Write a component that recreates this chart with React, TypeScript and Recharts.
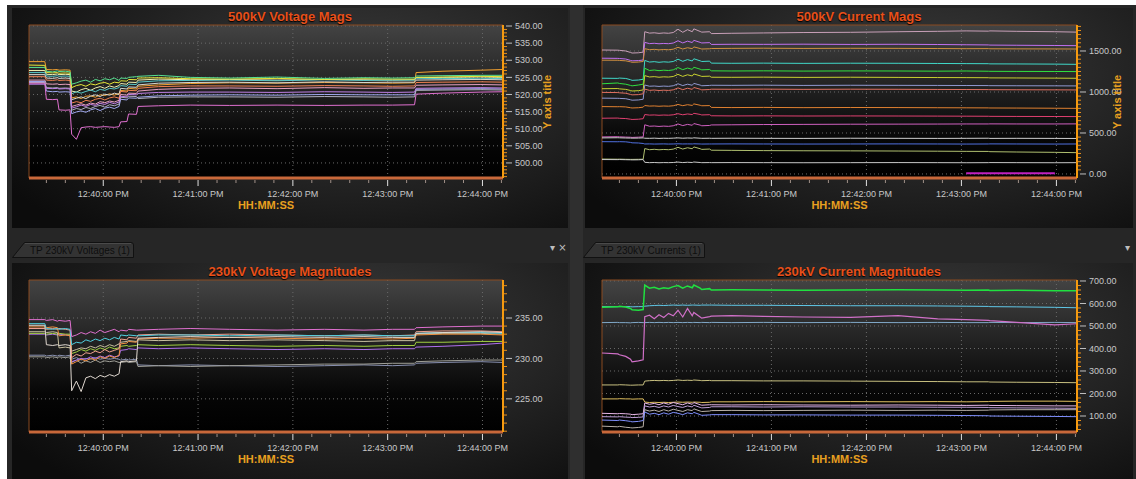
import { CartesianGrid, Line, LineChart, ReferenceArea, XAxis, YAxis } from "recharts";

const FONT = "Arial, 'Liberation Sans', Helvetica, sans-serif";

// seconds relative to 12:40:00 PM
const TIME = [-47, -37, -36, -32, -29, -28, -24, -21, -20, -17, -14, -11, -8, -5, -2, 1, 4, 7, 10, 11, 15, 16, 21, 22, 35, 55, 80, 110, 140, 165, 183, 197, 198, 215, 239, 253];

const X_TICKS = [-36, -24, -12, 0, 12, 24, 36, 48, 60, 72, 84, 96, 108, 120, 132, 144, 156, 168, 180, 192, 204, 216, 228, 240, 252];
const X_MAJOR = [0, 60, 120, 180, 240];
const X_LABELS = ["12:40:00 PM", "12:41:00 PM", "12:42:00 PM", "12:43:00 PM", "12:44:00 PM"];

// 500kV voltage mags (kV)
const V500_ORANGE = [529.6, 529.6, 527.3, 527.2, 527.3, 527.1, 527.2, 527.1, 519.0, 519.3, 518.8, 519.5, 519.6, 519.2, 519.9, 519.7, 520.2, 519.8, 520.3, 521.2, 521.0, 521.8, 521.6, 522.4, 522.8, 523.2, 523.4, 523.3, 523.5, 523.4, 523.3, 523.4, 526.4, 526.8, 527.1, 527.3];
const V500_YELLOW = [528.6, 528.5, 526.4, 526.3, 526.4, 526.2, 526.3, 526.2, 522.0, 522.6, 522.9, 522.4, 523.1, 522.8, 523.3, 523.5, 523.0, 523.6, 523.4, 524.0, 523.9, 524.4, 524.3, 524.8, 524.9, 524.6, 524.5, 524.7, 524.4, 524.6, 524.5, 524.5, 525.0, 525.1, 525.3, 525.2];
const V500_GREEN = [527.9, 527.9, 526.8, 526.6, 526.9, 526.7, 526.8, 526.6, 523.0, 523.4, 523.9, 524.2, 523.6, 524.4, 524.0, 524.6, 524.3, 524.8, 524.1, 524.8, 524.7, 525.0, 525.2, 525.3, 525.6, 525.0, 524.8, 525.1, 524.7, 524.9, 524.8, 524.9, 525.4, 525.5, 525.6, 525.6];
const V500_PALE = [527.0, 527.0, 525.9, 525.8, 526.0, 525.8, 525.9, 525.8, 521.0, 520.7, 521.4, 521.8, 521.2, 521.9, 522.3, 521.8, 522.5, 522.1, 522.6, 523.2, 523.0, 523.6, 523.5, 524.2, 524.5, 524.3, 524.4, 524.2, 524.4, 524.3, 524.2, 524.3, 524.9, 525.0, 525.1, 525.0];
const V500_TEAL = [526.4, 526.4, 525.4, 525.3, 525.5, 525.3, 525.4, 525.3, 520.2, 520.8, 520.4, 520.9, 521.3, 520.8, 521.5, 521.2, 521.8, 521.6, 522.0, 522.6, 522.4, 523.0, 522.9, 523.6, 524.0, 524.1, 524.2, 524.0, 524.3, 524.1, 524.2, 524.2, 524.6, 524.7, 524.6, 524.7];
const V500_WHITE = [525.8, 525.8, 524.8, 524.7, 524.9, 524.7, 524.8, 524.7, 518.5, 518.9, 519.3, 518.8, 519.5, 519.9, 519.4, 520.1, 519.8, 520.4, 520.0, 521.8, 521.6, 522.2, 522.1, 522.8, 523.3, 523.5, 523.6, 523.4, 523.7, 523.5, 523.6, 523.6, 524.2, 524.3, 524.4, 524.3];
const V500_SALMON = [525.2, 525.2, 524.2, 524.1, 524.3, 524.1, 524.2, 524.1, 517.5, 517.9, 517.6, 518.3, 518.0, 518.6, 518.9, 518.4, 519.0, 519.3, 518.9, 520.9, 520.7, 521.2, 521.1, 521.8, 522.3, 522.5, 522.5, 522.4, 522.6, 522.5, 522.4, 522.5, 523.5, 523.6, 523.7, 523.6];
const V500_PINK = [524.2, 524.2, 523.1, 523.0, 523.1, 522.9, 523.0, 522.9, 516.5, 516.9, 517.3, 516.9, 517.5, 517.2, 517.9, 517.6, 518.1, 517.8, 518.3, 520.0, 519.8, 520.4, 520.3, 521.0, 521.5, 521.8, 521.9, 521.7, 522.0, 521.8, 521.9, 521.9, 522.7, 522.8, 522.9, 522.8];
const V500_LAVENDER = [523.8, 523.8, 521.0, 520.8, 520.9, 520.7, 520.8, 520.7, 514.4, 514.9, 515.2, 514.8, 515.5, 515.9, 515.3, 516.0, 516.3, 515.9, 516.5, 518.6, 518.4, 519.0, 518.9, 519.2, 519.6, 519.8, 519.9, 519.8, 520.0, 519.9, 519.9, 519.9, 521.5, 521.6, 521.7, 521.6];
const V500_GRAY = [523.5, 523.5, 522.0, 521.9, 522.0, 521.8, 521.9, 521.8, 515.4, 515.9, 515.6, 516.2, 515.9, 516.5, 516.8, 516.3, 517.0, 516.7, 517.2, 519.2, 519.0, 519.5, 519.4, 518.8, 519.2, 519.3, 519.3, 519.2, 519.4, 519.3, 519.2, 519.3, 521.2, 521.3, 521.4, 521.3];
const V500_PURPLE = [523.0, 523.0, 521.8, 521.7, 521.8, 521.6, 521.7, 521.6, 516.0, 516.4, 516.9, 516.5, 517.1, 516.8, 517.4, 517.1, 517.7, 517.3, 517.8, 519.5, 519.3, 520.0, 519.9, 520.3, 520.6, 520.7, 520.7, 520.6, 520.8, 520.7, 520.6, 520.7, 521.8, 521.9, 522.0, 521.9];
const V500_MAGENTA = [523.3, 523.3, 518.6, 518.5, 518.6, 515.5, 515.4, 515.5, 508.4, 506.9, 510.3, 510.5, 510.6, 510.4, 510.5, 510.6, 510.5, 510.4, 510.6, 512.0, 512.1, 514.3, 514.2, 516.5, 516.7, 516.9, 516.8, 516.9, 516.8, 516.9, 516.9, 517.0, 520.1, 520.4, 520.7, 520.8];

// 500kV current mags (A)
const I500_MAUVE = [1512, 1510, 1508, 1500, 1482, 1475, 1478, 1486, 1735, 1718, 1722, 1715, 1720, 1716, 1725, 1765, 1728, 1760, 1735, 1770, 1738, 1730, 1735, 1712, 1716, 1720, 1725, 1728, 1735, 1740, 1745, 1742, 1745, 1740, 1735, 1730];
const I500_VIOLET = [1412, 1410, 1408, 1402, 1385, 1380, 1383, 1390, 1605, 1590, 1594, 1588, 1592, 1589, 1597, 1625, 1598, 1620, 1603, 1630, 1605, 1598, 1602, 1580, 1582, 1581, 1583, 1580, 1582, 1579, 1576, 1574, 1572, 1570, 1567, 1565];
const I500_TAN = [1388, 1387, 1385, 1380, 1368, 1362, 1365, 1372, 1528, 1516, 1520, 1514, 1518, 1515, 1522, 1545, 1524, 1540, 1528, 1550, 1530, 1524, 1527, 1530, 1532, 1534, 1531, 1533, 1532, 1530, 1528, 1529, 1527, 1526, 1525, 1524];
const I500_TEAL = [1168, 1166, 1170, 1165, 1150, 1142, 1146, 1155, 1385, 1365, 1370, 1362, 1368, 1364, 1372, 1400, 1374, 1395, 1378, 1405, 1380, 1372, 1376, 1352, 1350, 1352, 1349, 1351, 1350, 1348, 1346, 1345, 1343, 1342, 1340, 1337];
const I500_GREEN = [1100, 1110, 1104, 1095, 1080, 1075, 1085, 1095, 1290, 1262, 1268, 1260, 1266, 1262, 1270, 1298, 1272, 1292, 1276, 1302, 1278, 1270, 1274, 1258, 1256, 1258, 1255, 1257, 1256, 1254, 1256, 1253, 1252, 1251, 1250, 1249];
const I500_YELLOW = [1040, 1042, 1038, 1032, 1018, 1012, 1016, 1025, 1200, 1183, 1187, 1180, 1185, 1182, 1189, 1215, 1190, 1210, 1195, 1220, 1197, 1190, 1193, 1180, 1179, 1181, 1178, 1180, 1178, 1176, 1175, 1174, 1172, 1171, 1169, 1167];
const I500_LAVENDER = [925, 923, 922, 918, 905, 900, 903, 912, 1085, 1070, 1073, 1068, 1072, 1069, 1076, 1100, 1078, 1095, 1082, 1105, 1084, 1076, 1080, 1082, 1081, 1083, 1080, 1082, 1081, 1080, 1079, 1078, 1077, 1076, 1075, 1074];
const I500_SALMON = [995, 993, 990, 985, 970, 965, 968, 978, 1035, 1020, 1024, 1018, 1022, 1019, 1026, 1050, 1028, 1046, 1032, 1055, 1034, 1026, 1030, 1034, 1033, 1035, 1032, 1034, 1033, 1031, 1030, 1029, 1028, 1027, 1026, 1025];
const I500_ORANGE = [822, 820, 821, 818, 808, 805, 808, 815, 835, 828, 830, 826, 829, 827, 832, 848, 833, 845, 836, 855, 838, 832, 834, 812, 810, 812, 809, 811, 810, 808, 807, 806, 805, 804, 802, 800];
const I500_RED = [680, 682, 679, 676, 668, 665, 668, 674, 725, 718, 720, 716, 719, 717, 722, 735, 722, 732, 725, 740, 726, 720, 723, 710, 708, 709, 707, 708, 707, 706, 705, 704, 703, 702, 701, 700];
const I500_ROSE = [452, 455, 453, 450, 448, 446, 449, 452, 600, 582, 585, 580, 584, 581, 588, 610, 590, 605, 594, 615, 596, 588, 592, 598, 600, 603, 605, 607, 608, 609, 610, 610, 611, 610, 610, 611];
const I500_SILVER = [440, 442, 441, 439, 438, 437, 438, 440, 436, 435, 437, 434, 436, 435, 437, 440, 436, 439, 437, 441, 436, 435, 436, 435, 436, 435, 434, 436, 435, 434, 435, 436, 434, 435, 434, 433];
const I500_BLUE = [394, 393, 394, 392, 385, 380, 378, 372, 366, 367, 365, 366, 367, 365, 366, 368, 366, 367, 366, 368, 366, 365, 366, 366, 367, 366, 365, 366, 367, 366, 365, 366, 367, 366, 365, 366];
const I500_OLIVE = [182, 180, 181, 179, 178, 178, 179, 180, 310, 296, 301, 295, 299, 296, 303, 325, 304, 320, 308, 330, 308, 300, 304, 290, 288, 285, 283, 282, 280, 278, 276, 275, 272, 268, 264, 260];
const I500_WHITE = [176, 175, 176, 174, 173, 172, 173, 176, 142, 138, 140, 137, 139, 138, 140, 145, 139, 143, 140, 146, 140, 138, 139, 138, 139, 138, 137, 138, 139, 138, 137, 138, 139, 138, 137, 138];
const I500_SHORT = [null, null, null, null, null, null, null, null, null, null, null, null, null, null, null, null, null, null, null, null, null, null, null, null, null, null, null, null, null, null, 8, 8, 8, 8, 8, null];

// 230kV voltage magnitudes (kV)
const V230_PINK = [234.8, 234.8, 234.7, 234.8, 234.6, 234.7, 234.6, 234.7, 232.7, 232.9, 233.2, 233.0, 233.3, 233.1, 233.5, 233.2, 233.4, 233.6, 233.3, 233.5, 233.4, 233.6, 233.5, 233.5, 233.6, 233.7, 233.6, 233.5, 233.6, 233.5, 233.6, 233.6, 233.8, 233.9, 234.0, 234.0];
const V230_TEAL = [234.3, 234.3, 233.7, 233.6, 233.7, 233.6, 233.7, 233.6, 231.7, 232.0, 231.9, 232.3, 232.1, 232.4, 232.2, 232.5, 232.3, 232.6, 232.4, 232.9, 232.8, 232.9, 232.8, 232.8, 232.9, 232.9, 232.8, 232.9, 232.8, 232.9, 232.8, 232.8, 233.1, 233.2, 233.2, 233.1];
const V230_WHITE = [234.1, 234.1, 231.7, 231.6, 231.7, 231.6, 231.7, 231.6, 226.0, 227.2, 225.9, 227.6, 227.8, 227.5, 227.9, 227.7, 228.0, 227.8, 228.1, 229.6, 229.7, 229.6, 229.7, 232.5, 232.6, 232.7, 232.6, 232.7, 232.6, 232.7, 232.6, 232.6, 233.1, 233.2, 233.3, 233.2];
const V230_ORANGE = [233.9, 233.9, 233.8, 233.9, 233.8, 232.8, 232.9, 232.8, 229.3, 229.6, 229.9, 229.7, 230.0, 229.8, 230.2, 230.0, 230.3, 230.1, 230.4, 231.8, 231.9, 232.1, 232.0, 232.4, 232.5, 232.5, 232.6, 232.5, 232.4, 232.5, 232.4, 232.5, 232.9, 233.0, 233.0, 232.9];
const V230_SALMON = [233.7, 233.7, 233.6, 233.7, 233.6, 233.7, 233.6, 233.5, 230.1, 230.5, 230.3, 230.7, 230.6, 230.9, 230.7, 231.1, 230.8, 231.0, 231.2, 232.4, 232.3, 232.6, 232.5, 232.9, 233.0, 232.9, 233.0, 232.9, 232.8, 232.9, 232.8, 232.9, 233.3, 233.4, 233.4, 233.3];
const V230_BEIGE = [233.3, 233.3, 233.2, 233.3, 233.2, 231.3, 231.4, 231.3, 230.9, 231.1, 231.3, 231.2, 231.5, 231.3, 231.6, 231.4, 231.7, 231.5, 231.8, 232.0, 232.1, 232.2, 232.1, 232.3, 232.2, 232.3, 232.2, 232.3, 232.2, 232.1, 232.2, 232.2, 233.0, 233.1, 233.1, 233.0];
const V230_GREEN = [233.1, 233.1, 233.0, 233.1, 233.0, 233.1, 233.0, 233.0, 230.6, 230.8, 231.1, 230.9, 231.2, 231.0, 231.3, 231.1, 231.4, 231.2, 231.3, 231.5, 231.6, 231.5, 231.6, 231.7, 231.6, 231.7, 231.6, 231.5, 231.6, 231.5, 231.6, 231.6, 232.0, 232.0, 232.1, 232.1];
const V230_PURPLE = [233.0, 233.0, 232.9, 233.0, 232.9, 233.0, 232.9, 232.9, 229.6, 229.8, 230.0, 229.9, 230.2, 230.0, 230.3, 230.1, 230.4, 230.2, 230.3, 231.0, 231.1, 231.2, 231.1, 231.3, 231.2, 231.3, 231.2, 231.1, 231.2, 231.1, 231.2, 231.2, 231.4, 231.5, 231.7, 231.9];
const V230_SLATE = [230.4, 230.4, 230.3, 230.4, 230.3, 230.4, 230.3, 230.4, 229.9, 230.1, 229.8, 230.0, 229.9, 230.1, 229.9, 230.0, 229.9, 230.0, 229.9, 229.8, 229.9, 229.8, 229.9, 229.2, 229.1, 229.2, 229.1, 229.0, 229.1, 229.2, 229.1, 229.2, 229.4, 229.5, 229.6, 229.5];
const V230_GRAY = [230.2, 230.2, 230.1, 230.2, 230.1, 230.2, 230.1, 230.2, 229.5, 229.8, 229.4, 229.7, 229.5, 229.8, 229.5, 229.7, 229.6, 229.7, 229.5, 229.5, 229.6, 229.5, 229.6, 229.0, 229.1, 229.0, 229.1, 229.2, 229.3, 229.3, 229.4, 229.4, 229.6, 229.7, 229.8, 229.8];

// 230kV current magnitudes (A)
const I230_GREEN = [583, 585, 588, 584, 578, 572, 570, 573, 682, 668, 672, 665, 670, 667, 675, 680, 668, 678, 670, 682, 668, 662, 666, 660, 661, 660, 659, 660, 661, 660, 659, 660, 658, 659, 657, 657];
const I230_CYAN = [586, 586, 586, 586, 586, 585, 586, 586, 588, 590, 591, 592, 591, 592, 593, 592, 593, 592, 593, 593, 592, 593, 593, 593, 592, 592, 591, 590, 590, 589, 588, 587, 586, 585, 583, 581];
const I230_PINK = [380, 376, 372, 365, 352, 341, 345, 350, 541, 548, 532, 550, 538, 556, 545, 570, 540, 578, 545, 560, 540, 535, 542, 544, 546, 543, 540, 538, 546, 532, 528, 525, 524, 516, 505, 510];
const I230_STEEL = [515, 516, 515, 515, 514, 515, 516, 515, 515, 516, 515, 516, 515, 516, 515, 516, 515, 516, 515, 516, 515, 516, 515, 516, 515, 516, 515, 516, 515, 516, 515, 515, 516, 515, 516, 515];
const I230_KHAKI = [238, 238, 239, 238, 237, 237, 238, 238, 255, 257, 258, 257, 258, 257, 258, 260, 258, 259, 258, 260, 258, 257, 258, 257, 257, 256, 256, 255, 254, 253, 252, 252, 251, 250, 249, 248];
const I230_TAN = [176, 176, 177, 176, 176, 175, 176, 176, 162, 160, 161, 160, 161, 160, 161, 162, 161, 162, 161, 162, 161, 160, 161, 163, 163, 164, 163, 164, 163, 164, 163, 164, 165, 166, 166, 165];
const I230_BLUSH = [112, 110, 111, 110, 108, 106, 108, 110, 158, 152, 156, 150, 158, 152, 160, 155, 150, 158, 152, 160, 150, 148, 150, 150, 149, 150, 149, 148, 149, 148, 147, 148, 147, 146, 145, 145];
const I230_LILAC = [97, 96, 97, 95, 94, 93, 94, 96, 145, 140, 143, 138, 145, 140, 147, 142, 138, 145, 140, 148, 138, 136, 138, 141, 141, 140, 141, 140, 140, 139, 139, 138, 137, 136, 135, 134];
const I230_BLUE = [82, 80, 82, 79, 76, 74, 76, 80, 118, 108, 112, 106, 114, 108, 116, 112, 106, 114, 110, 116, 106, 103, 105, 106, 106, 105, 105, 104, 104, 103, 102, 101, 100, 99, 98, 97];
const I230_ASH = [55, 52, 54, 50, 48, 47, 49, 52, 128, 122, 126, 120, 128, 122, 130, 125, 120, 128, 124, 132, 122, 120, 122, 124, 125, 124, 125, 126, 125, 126, 125, 126, 127, 128, 128, 128];

type Series = { key: string; color: string; values: (number | null)[]; width?: number };

const V500_SERIES: Series[] = [
  { key: "orange", color: "#f0a030", values: V500_ORANGE },
  { key: "pale", color: "#eef0b0", values: V500_PALE },
  { key: "teal", color: "#58c8c8", values: V500_TEAL },
  { key: "white", color: "#d8d8d0", values: V500_WHITE },
  { key: "salmon", color: "#f08050", values: V500_SALMON },
  { key: "pink", color: "#e8a0c0", values: V500_PINK },
  { key: "lavender", color: "#a0a8f0", values: V500_LAVENDER },
  { key: "gray", color: "#b0b0c0", values: V500_GRAY },
  { key: "purple", color: "#c080e8", values: V500_PURPLE },
  { key: "yellow", color: "#e8e838", values: V500_YELLOW },
  { key: "green", color: "#58e090", values: V500_GREEN },
  { key: "magenta", color: "#e070d0", values: V500_MAGENTA },
];

const I500_SERIES: Series[] = [
  { key: "mauve", color: "#c8a0b8", values: I500_MAUVE },
  { key: "violet", color: "#c070f0", values: I500_VIOLET },
  { key: "tan", color: "#d09040", values: I500_TAN },
  { key: "teal", color: "#40d8c8", values: I500_TEAL },
  { key: "green", color: "#30e040", values: I500_GREEN },
  { key: "yellow", color: "#c8d030", values: I500_YELLOW },
  { key: "lavender", color: "#9098d0", values: I500_LAVENDER },
  { key: "salmon", color: "#e07060", values: I500_SALMON },
  { key: "orange", color: "#e08030", values: I500_ORANGE },
  { key: "red", color: "#e04070", values: I500_RED },
  { key: "rose", color: "#d060c0", values: I500_ROSE },
  { key: "silver", color: "#d0d0d0", values: I500_SILVER },
  { key: "blue", color: "#5070e0", values: I500_BLUE },
  { key: "olive", color: "#b0c070", values: I500_OLIVE },
  { key: "white", color: "#c8c8c8", values: I500_WHITE },
  { key: "short", color: "#c020c0", values: I500_SHORT, width: 2 },
];

const V230_SERIES: Series[] = [
  { key: "slate", color: "#8890b0", values: V230_SLATE },
  { key: "gray", color: "#a0a098", values: V230_GRAY },
  { key: "purple", color: "#b070f0", values: V230_PURPLE },
  { key: "green", color: "#a0d040", values: V230_GREEN },
  { key: "beige", color: "#c8c0a0", values: V230_BEIGE },
  { key: "orange", color: "#f09040", values: V230_ORANGE },
  { key: "salmon", color: "#f0a090", values: V230_SALMON },
  { key: "teal", color: "#50d0e0", values: V230_TEAL },
  { key: "white", color: "#e0d8d0", values: V230_WHITE },
  { key: "pink", color: "#e070d0", values: V230_PINK },
];

const I230_SERIES: Series[] = [
  { key: "cyan", color: "#60c8e8", values: I230_CYAN },
  { key: "green", color: "#20e040", values: I230_GREEN, width: 1.5 },
  { key: "steel", color: "#80a8c8", values: I230_STEEL },
  { key: "pink", color: "#d070c8", values: I230_PINK, width: 1.2 },
  { key: "khaki", color: "#c8c080", values: I230_KHAKI },
  { key: "tan", color: "#e0c060", values: I230_TAN },
  { key: "blush", color: "#e8b8e8", values: I230_BLUSH },
  { key: "lilac", color: "#c0a0d8", values: I230_LILAC },
  { key: "ash", color: "#b8b0a8", values: I230_ASH },
  { key: "blue", color: "#8090ff", values: I230_BLUE },
];

function toRows(series: Series[]) {
  return TIME.map((t, i) => {
    const row: Record<string, number | null> = { t };
    for (const s of series) row[s.key] = s.values[i];
    return row;
  });
}

function steps(from: number, to: number, step: number) {
  const out: number[] = [];
  for (let v = from; v <= to; v += step) out.push(v);
  return out;
}

type PanelProps = {
  id: string;
  title: string;
  left: number;
  top: number;
  width: number;
  height: number;
  yDomain: [number, number];
  yMajor: number[];
  yMinor: number[];
  yWidth: number;
  marginRight: number;
  marginBottom: number;
  series: Series[];
  yTitleOffset?: number;
};

function XTick(props: any) {
  const { x, y, payload } = props;
  const i = X_MAJOR.indexOf(payload.value);
  const major = i >= 0;
  return (
    <g>
      <line x1={x} x2={x} y1={y + 2} y2={y + (major ? 8 : 5)} stroke={major ? "#e0e0e0" : "#a09088"} strokeWidth={1} />
      {major && (
        <text x={x} y={y + 19} textAnchor="middle" fill="#c8c8c8" fontSize={9} fontFamily={FONT}>
          {X_LABELS[i]}
        </text>
      )}
    </g>
  );
}

function makeYTick(major: number[]) {
  return (props: any) => {
    const { x, y, payload } = props;
    if (major.includes(payload.value))
      return (
        <g>
          <line x1={x + 3} x2={x + 9} y1={y} y2={y} stroke="#c0c0c0" strokeWidth={1} />
          <text x={x + 12} y={y} dy="0.35em" fill="#c8c8c8" fontSize={9} fontFamily={FONT}>
            {payload.value.toFixed(2)}
          </text>
        </g>
      );
    return <line x1={x + 1} x2={x + 4} y1={y} y2={y} stroke="#e8901c" strokeWidth={1} />;
  };
}

function Panel(p: PanelProps) {
  const rows = toRows(p.series);
  const plotLeft = 17;
  const plotRight = p.width - p.marginRight - p.yWidth;
  const plotCenter = p.left + (plotLeft + plotRight) / 2;
  const plotBottom = p.height - p.marginBottom - 45;
  return (
    <>
      <div
        style={{
          position: "absolute",
          left: p.left,
          top: p.top,
          width: p.width,
          height: p.height,
          background: "radial-gradient(ellipse 75% 95% at 62% 30%, #3a3a3a 0%, #262626 45%, #0c0c0c 100%)",
        }}
      >
        <LineChart
          width={p.width}
          height={p.height}
          data={rows}
          margin={{ top: 17, left: 17, right: p.marginRight, bottom: p.marginBottom }}
        >
          <defs>
            <linearGradient id={`bg-${p.id}`} x1="0" y1="0" x2="0" y2="1">
              <stop offset="0%" stopColor="#434343" />
              <stop offset="45%" stopColor="#1e1e1e" />
              <stop offset="75%" stopColor="#060606" />
              <stop offset="100%" stopColor="#000000" />
            </linearGradient>
          </defs>
          <CartesianGrid
            fill={`url(#bg-${p.id})`}
            fillOpacity={1}
            stroke="#6a6a6a"
            strokeDasharray="1 3"
            horizontalValues={p.yMajor}
            verticalValues={X_MAJOR}
          />
          <XAxis
            type="number"
            dataKey="t"
            domain={[-47, 253]}
            ticks={X_TICKS}
            interval={0}
            allowDataOverflow
            tick={XTick}
            tickLine={false}
            tickSize={0}
            tickMargin={0}
            height={45}
            axisLine={{ stroke: "#c8683a", strokeWidth: 3 }}
          />
          <YAxis
            orientation="right"
            type="number"
            domain={p.yDomain}
            ticks={p.yMinor}
            interval={0}
            allowDataOverflow
            tick={makeYTick(p.yMajor)}
            tickLine={false}
            tickSize={0}
            tickMargin={0}
            width={p.yWidth}
            axisLine={{ stroke: "#f59a10", strokeWidth: 2 }}
          />
          <ReferenceArea x1={-47} x2={253} y1={p.yDomain[0]} y2={p.yDomain[1]} fill="none" stroke="#8a4a20" strokeWidth={1} />
          {p.series.map((s) => (
            <Line
              key={s.key}
              dataKey={s.key}
              type="linear"
              stroke={s.color}
              strokeWidth={s.width ?? 1}
              dot={false}
              activeDot={false}
              isAnimationActive={false}
            />
          ))}
        </LineChart>
      </div>
      <div
        style={{
          position: "absolute",
          left: p.left,
          top: p.top + 1,
          width: p.width,
          textAlign: "center",
          fontFamily: FONT,
          fontWeight: "bold",
          fontSize: 13,
          lineHeight: "15px",
          color: "#e8501a",
          textShadow: "0 1px 1px #000",
        }}
      >
        {p.title}
      </div>
      <div
        style={{
          position: "absolute",
          left: plotCenter - 40,
          top: p.top + plotBottom + 21,
          width: 80,
          textAlign: "center",
          fontFamily: FONT,
          fontWeight: "bold",
          fontSize: 11,
          lineHeight: "13px",
          color: "#e8a020",
        }}
      >
        HH:MM:SS
      </div>
      {p.yTitleOffset !== undefined && (
        <div
          style={{
            position: "absolute",
            left: p.left + plotRight + p.yTitleOffset,
            top: p.top + 94,
            transform: "translate(-50%, -50%) rotate(-90deg)",
            whiteSpace: "nowrap",
            fontFamily: FONT,
            fontWeight: "bold",
            fontSize: 11,
            lineHeight: "13px",
            color: "#e8a020",
          }}
        >
          Y axis title
        </div>
      )}
    </>
  );
}

function Tab({ left, label }: { left: number; label: string }) {
  return (
    <svg style={{ position: "absolute", left, top: 241 }} width={124} height={18}>
      <path d="M0.5 16.5 L12.5 1.5 L119 1.5 Q121.5 1.5 121.5 4 L121.5 16.5 Z" fill="#333333" stroke="#111" />
      <line x1={13} x2={119} y1={2.5} y2={2.5} stroke="#4a4a4a" />
      <text x={18} y={13} fontSize={10} fontFamily={FONT} fill="#0e0e0e">
        {label}
      </text>
    </svg>
  );
}

export default function App() {
  return (
    <div style={{ position: "absolute", left: 0, top: 0, width: 1136, height: 479, background: "#ffffff", overflow: "hidden" }}>
      <div style={{ position: "absolute", left: 7, top: 5, width: 1129, height: 474, background: "#2f2f2f" }} />
      <div style={{ position: "absolute", left: 7, top: 5, width: 563, height: 474, background: "#262626" }} />
      <div style={{ position: "absolute", left: 583, top: 5, width: 553, height: 474, background: "#262626" }} />
      <Panel
        id="v500"
        title="500kV Voltage Mags"
        left={12}
        top={8}
        width={556}
        height={220}
        yDomain={[495.6, 540.3]}
        yMajor={[500, 505, 510, 515, 520, 525, 530, 535, 540]}
        yMinor={steps(496, 540, 1)}
        yWidth={60}
        marginRight={5}
        marginBottom={5}
        series={V500_SERIES}
        yTitleOffset={44}
      />
      <Panel
        id="i500"
        title="500kV Current Mags"
        left={585}
        top={8}
        width={548}
        height={220}
        yDomain={[-49, 1817]}
        yMajor={[0, 500, 1000, 1500]}
        yMinor={steps(0, 1800, 50)}
        yWidth={52}
        marginRight={4}
        marginBottom={5}
        series={I500_SERIES}
        yTitleOffset={40}
      />
      <Tab left={12} label="TP 230kV Voltages (1)" />
      <Tab left={583} label="TP 230kV Currents (1)" />
      <div style={{ position: "absolute", left: 550, top: 241, color: "#bdbdbd", fontFamily: "DejaVu Sans, sans-serif", fontSize: 10, lineHeight: "14px" }}>
        ▾ ×
      </div>
      <div style={{ position: "absolute", left: 1125, top: 241, color: "#bdbdbd", fontFamily: "DejaVu Sans, sans-serif", fontSize: 10, lineHeight: "14px" }}>
        ▾
      </div>
      <Panel
        id="v230"
        title="230kV Voltage Magnitudes"
        left={12}
        top={263}
        width={556}
        height={216}
        yDomain={[220.9, 239.7]}
        yMajor={[225, 230, 235]}
        yMinor={steps(221, 239, 1)}
        yWidth={60}
        marginRight={5}
        marginBottom={2}
        series={V230_SERIES}
      />
      <Panel
        id="i230"
        title="230kV Current Magnitudes"
        left={585}
        top={263}
        width={548}
        height={216}
        yDomain={[28.9, 704.4]}
        yMajor={[100, 200, 300, 400, 500, 600, 700]}
        yMinor={steps(40, 700, 20)}
        yWidth={52}
        marginRight={4}
        marginBottom={2}
        series={I230_SERIES}
      />
    </div>
  );
}
